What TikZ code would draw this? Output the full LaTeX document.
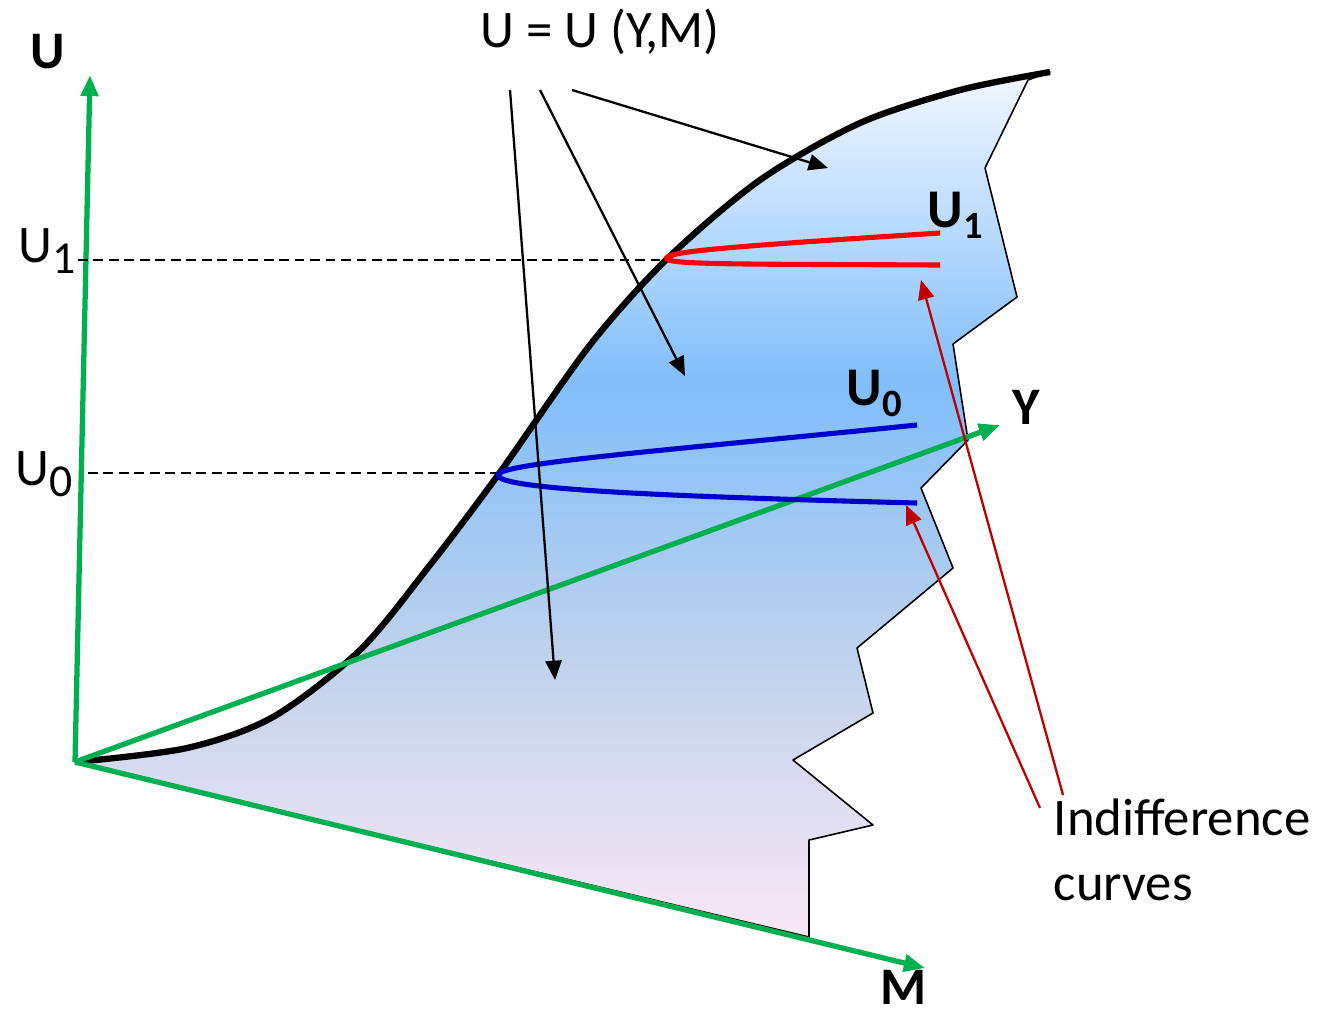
\documentclass[tikz,border=0pt]{standalone}
\usepackage{fontspec}
\setmainfont{Carlito}
\usetikzlibrary{arrows.meta}

\definecolor{axisgreen}{RGB}{0,176,80}
\definecolor{icred}{RGB}{255,0,0}
\definecolor{icblue}{RGB}{0,0,204}
\definecolor{ptrred}{RGB}{192,0,0}
\definecolor{surftop}{RGB}{242,247,255}
\definecolor{surfblue}{RGB}{128,190,250}
\definecolor{surfgrey}{RGB}{192,210,236}
\definecolor{surfpink}{RGB}{250,232,246}
\pgfdeclareverticalshading{surface}{100bp}{color(0bp)=(surfpink); color(25bp)=(surfpink); color(41bp)=(surfgrey); color(57bp)=(surfblue); color(75bp)=(surftop); color(100bp)=(surftop)}

\newcommand{\lowsub}[2][11]{\raisebox{-3.3pt}{\fontsize{#1}{#1}\selectfont #2}}

\begin{document}
\begin{tikzpicture}[
    x=0.01cm, y=-0.01cm,
    font=\fontsize{15}{18.5}\selectfont,
    axis/.style={-{Triangle[length=6pt, width=4.8pt]}, line width=1.5pt, draw=axisgreen},
    ridge/.style={line width=1.8pt, line join=round},
    level/.style={dash pattern=on 2.8pt off 1.6pt, line width=0.5pt},
    icurve/.style={line width=1.45pt},
    pointer/.style={-{Triangle[length=5.5pt, width=4.6pt]}, line width=0.65pt},
    lbl/.style={inner sep=0pt, anchor=base west}
]
\useasboundingbox (0,0) rectangle (1325,1011);

% Axes end points
\coordinate (O) at (75,762);
\coordinate (Utip) at (90,75);
\coordinate (Ytip) at (1000,425);
\coordinate (Mtip) at (925,968);

% Utility surface
\shadedraw[shading=surface, line width=0.45pt, line join=round]
  plot[smooth] coordinates {(75,762) (187,748) (273,717) (360,650) (430,565) (498,475) (590,345) (668,258) (760,180) (860,123) (960,90) (1050,72)}
  -- (1028,80) -- (985,168) -- (1017,297) -- (953,344) -- (968,440) -- (921,488)
  -- (953,568) -- (857,648) -- (873,713) -- (793,760) -- (873,825) -- (809,840)
  -- (809,937) -- cycle;
\draw[ridge] plot[smooth] coordinates {(75,762) (187,748) (273,717) (360,650) (430,565) (498,475) (590,345) (668,258) (760,180) (860,123) (960,90) (1050,72)};

% Axes
\draw[axis] (O) -- (Utip);
\draw[axis] (O) -- (Ytip);
\draw[axis] (O) -- (Mtip);

\node[lbl, font=\fontsize{15}{18}\selectfont\bfseries] (ulabel) at (30,68) {U};
\node[lbl, font=\fontsize{15}{18}\selectfont\bfseries] (ylabel) at (1012,424) {Y};
\node[lbl, font=\fontsize{15}{18}\selectfont\bfseries] (mlabel) at (880,1004) {M};

% Utility levels
\coordinate (tip1) at (667,259);
\coordinate (tip0) at (498,476);
\coordinate (lev1) at (78,260);
\coordinate (lev0) at (88,473);
\draw[level] (lev1) -- (tip1 |- lev1);
\draw[level] (lev0) -- (tip0 |- lev0);
\node[lbl] (u1tick) at (18,262) {U\lowsub[13]{1}};
\node[lbl] (u0tick) at (15,485) {U\lowsub[13]{0}};

% Indifference curves
\draw[icurve, icred] (940,233) .. controls (720,247) and (662,252) .. (tip1) .. controls (672,265) and (760,264) .. (940,265);
\draw[icurve, icblue] (917,425) .. controls (650,452) and (490,464) .. (tip0) .. controls (505,489) and (650,496) .. (917,503);
\node[lbl, font=\fontsize{15.5}{18}\selectfont\bfseries] (u1name) at (927,227) {U\lowsub{1}};
\node[lbl, font=\fontsize{15.5}{18}\selectfont\bfseries] (u0name) at (846,405) {U\lowsub{0}};

% Function label and pointers
\node[inner sep=0pt, anchor=base] (func) at (600,47) {U = U (Y,M)};
\coordinate (p1) at (510,90);
\coordinate (p2) at (540,90);
\coordinate (p3) at (572,90);
\coordinate (a1) at (555,680);
\coordinate (a2) at (685,376);
\coordinate (a3) at (828,168);
\draw[pointer] (p1) -- (a1);
\draw[pointer] (p2) -- (a2);
\draw[pointer] (p3) -- (a3);

\node[inner sep=0pt, anchor=north west, align=left] (indiff) at (1053,798) {Indifference\\curves};
\coordinate (q1) at (1063,795);
\coordinate (q2) at (1040,808);
\coordinate (b1) at (921,280);
\coordinate (b2) at (906,505);
\draw[pointer, ptrred] (q1) -- (b1);
\draw[pointer, ptrred] (q2) -- (b2);

\end{tikzpicture}
\end{document}
